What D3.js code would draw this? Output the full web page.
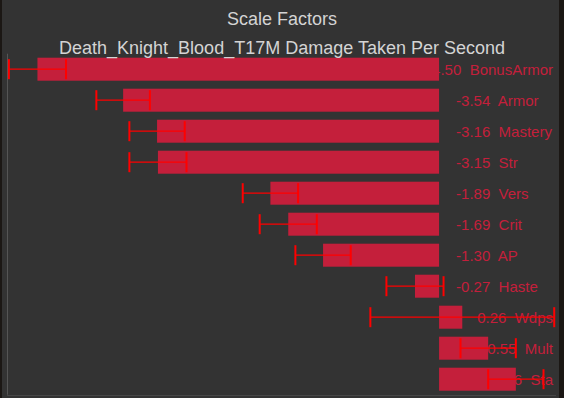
<!DOCTYPE html>
<html>
<head>
<meta charset="utf-8">
<script src="https://cdn.jsdelivr.net/npm/d3@7"></script>
<style>
  html, body { margin: 0; padding: 0; background: #1b1714; }
  svg { display: block; font-family: "Liberation Sans", Arial, sans-serif; }
</style>
</head>
<body>
<svg id="chart" width="564" height="398"></svg>
<script>
// scale factors
const categories = ['BonusArmor', 'Armor', 'Mastery', 'Str', 'Vers', 'Crit', 'AP', 'Haste', 'Wdps', 'Mult', 'Sta'];
const values = [-4.50, -3.54, -3.16, -3.15, -1.89, -1.69, -1.30, -0.27, 0.26, 0.55, 0.86];
const errors = [0.32, 0.30, 0.31, 0.32, 0.31, 0.32, 0.31, 0.32, 1.03, 0.31, 0.31];

const title = 'Scale Factors';
const subtitle = 'Death_Knight_Blood_T17M Damage Taken Per Second';

const data = categories.map((c, i) => ({ name: c, value: values[i], err: errors[i] }));

const width = 564, height = 398;
const barColor = '#c41f3b';

const svg = d3.select('#chart');

// panneau de fond
svg.append('rect')
    .attr('x', 2).attr('y', -10)
    .attr('width', 557).attr('height', height + 20)
    .attr('rx', 8)
    .attr('fill', '#333333');

const x = d3.scaleLinear().domain([-4.83, 1.31]).range([8, 556]);
const y = d3.scaleBand().domain(categories).range([53.7, 394.7])
    .paddingInner(0.258).paddingOuter(0.129);

// axes
svg.append('g')
    .attr('transform', 'translate(7,0)')
    .call(d3.axisLeft(y).tickSize(0).tickFormat(''))
    .call(g => g.select('.domain').attr('stroke', '#555').attr('d', `M0.5,${y.range()[0]}V${y.range()[1]}`));
svg.append('line')
    .attr('x1', 7).attr('x2', 556)
    .attr('y1', 395.5).attr('y2', 395.5)
    .attr('stroke', '#474747');

// étiquettes (sous les barres, comme dans l'original)
const labelRight = 553;
const labels = svg.append('g')
    .selectAll('text')
    .data(data)
    .join('text')
    .attr('xml:space', 'preserve')
    .attr('y', d => y(d.name) + y.bandwidth() / 2 + 5.5)
    .attr('fill', barColor)
    .style('font-size', '15px')
    .style('white-space', 'pre')
    .text(d => `${d.value.toFixed(2)}  ${d.name}`);
labels.attr('x', function(d) {
    const w = this.getComputedTextLength();
    const natural = Math.max(x(0), x(d.value)) + 17;
    return Math.min(natural, labelRight - w);
});

// barres
svg.append('g')
    .selectAll('rect')
    .data(data)
    .join('rect')
    .attr('x', d => x(Math.min(0, d.value)))
    .attr('y', d => y(d.name))
    .attr('width', d => Math.abs(x(d.value) - x(0)))
    .attr('height', y.bandwidth())
    .attr('fill', barColor);

// barres d'erreur
const eb = svg.append('g')
    .selectAll('g')
    .data(data)
    .join('g')
    .attr('transform', d => `translate(0,${y(d.name) + y.bandwidth() / 2})`)
    .attr('stroke', '#ff0000');
eb.append('line')
    .attr('x1', d => x(d.value - d.err)).attr('x2', d => x(d.value + d.err))
    .attr('stroke-width', 1.2);
eb.append('line')
    .attr('x1', d => x(d.value - d.err)).attr('x2', d => x(d.value - d.err))
    .attr('y1', -10).attr('y2', 10)
    .attr('stroke-width', 2);
eb.append('line')
    .attr('x1', d => x(d.value + d.err)).attr('x2', d => x(d.value + d.err))
    .attr('y1', -10).attr('y2', 10)
    .attr('stroke-width', 2);

// titres (au-dessus de tout)
svg.append('text')
    .attr('x', width / 2).attr('y', 25)
    .attr('text-anchor', 'middle')
    .attr('fill', '#d4d4d4')
    .style('font-size', '18px')
    .text(title);
svg.append('text')
    .attr('x', width / 2).attr('y', 54)
    .attr('text-anchor', 'middle')
    .attr('fill', '#d4d4d4')
    .style('font-size', '18px')
    .text(subtitle);
</script>
</body>
</html>
